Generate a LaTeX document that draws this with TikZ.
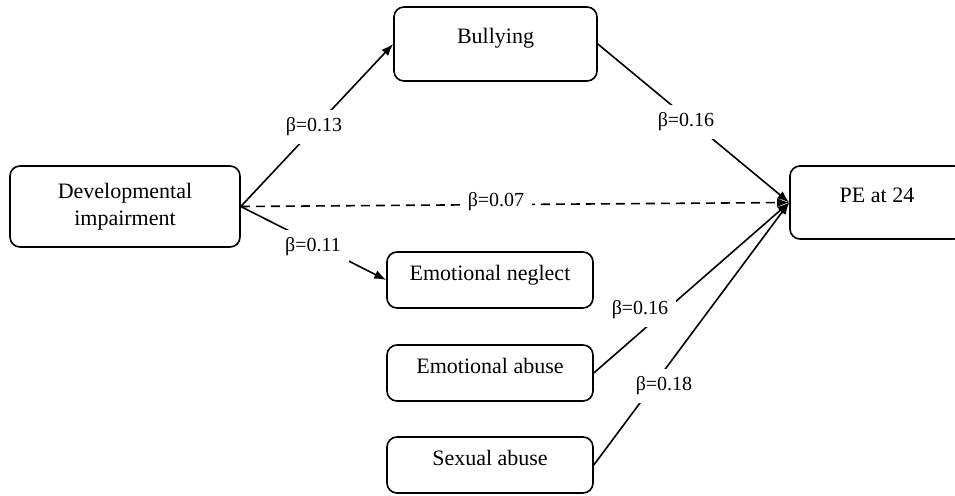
\documentclass[tikz,border=0pt]{standalone}
\usepackage{fontspec}
\setmainfont{Liberation Serif}
\usetikzlibrary{arrows.meta}
\begin{document}
\begin{tikzpicture}[x=1pt,y=-1pt,
  box/.style={draw, rounded corners=10pt, line width=1.6pt, inner sep=0pt,
    font=\fontsize{22}{27}\selectfont},
  onebox/.style={box, text height=15pt, text depth=15pt},
  lbl/.style={fill=white, inner xsep=8pt, inner ysep=8pt,
    font=\fontsize{20}{24}\selectfont},
  conn/.style={line width=1.6pt, -{Latex[length=12pt,width=9pt]}},
  dashconn/.style={conn, dash pattern=on 9pt off 6pt}
]
\clip (0,0) rectangle (955,495);
\fill[white] (0,0) rectangle (955,495);
% boxes
\node[box, align=center, minimum width=230pt, minimum height=81pt] (dev) at (125,206.5) {Developmental\\impairment};
\node[onebox, minimum width=203pt, minimum height=74pt] (bully) at (495.5,44) {Bullying};
\node[onebox, minimum width=174pt, minimum height=73pt] (pe) at (877,202.5) {PE at 24};
\node[onebox, minimum width=206pt, minimum height=56pt] (en) at (490,280) {Emotional neglect};
\node[onebox, minimum width=206pt, minimum height=56pt] (ea) at (490,373) {Emotional abuse};
\node[onebox, minimum width=206pt, minimum height=56pt] (sa) at (490,465) {Sexual abuse};
% connectors
\draw[conn] (dev.east) -- (bully.west);
\draw[conn] (dev.east) -- (en.west);
\draw[dashconn] (dev.east) -- (pe.west);
\draw[conn] (bully.east) -- (pe.west);
\draw[conn] (ea.east) -- (pe.west);
\draw[conn] (sa.east) -- (pe.west);
% labels
\node[lbl] (l1) at (314,127) {β=0.13};
\node[lbl] (l2) at (313,247) {β=0.11};
\node[lbl] (l3) at (496,202) {β=0.07};
\node[lbl] (l4) at (686,122) {β=0.16};
\node[lbl] (l5) at (640,310) {β=0.16};
\node[lbl] (l6) at (664,386) {β=0.18};
\end{tikzpicture}
\end{document}
